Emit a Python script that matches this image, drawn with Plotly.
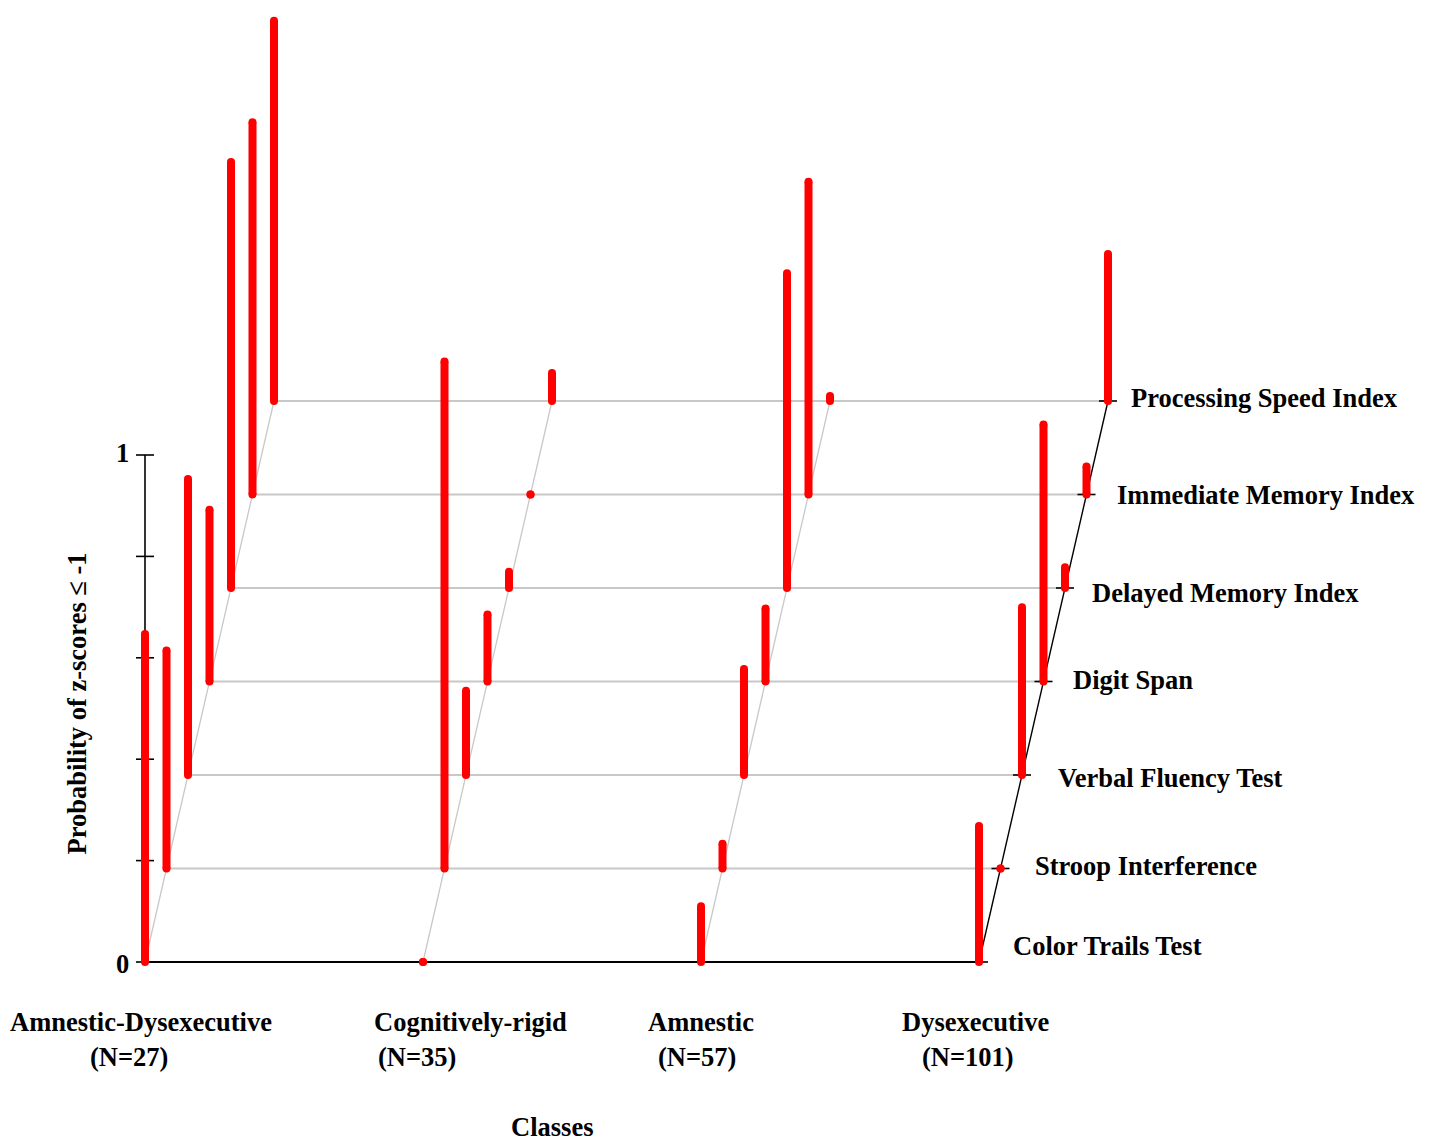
import plotly.graph_objects as go

# ---------------- data ----------------
classes = ["Amnestic-Dysexecutive", "Cognitively-rigid", "Amnestic", "Dysexecutive"]
class_n = ["(N=27)", "(N=35)", "(N=57)", "(N=101)"]
tests = ["Color Trails Test", "Stroop Interference", "Verbal Fluency Test", "Digit Span",
         "Delayed Memory Index", "Immediate Memory Index", "Processing Speed Index"]

# probability of z-scores <= -1, one list per class, in the order of `tests`
amnestic_dysexecutive = [0.647, 0.43, 0.584, 0.339, 0.84, 0.734, 0.75]
cognitively_rigid = [0.0, 1.0, 0.166, 0.132, 0.032, 0.0, 0.055]
amnestic = [0.11, 0.049, 0.209, 0.144, 0.621, 0.617, 0.01]
dysexecutive = [0.268, 0.0, 0.331, 0.507, 0.041, 0.055, 0.29]
values = [amnestic_dysexecutive, cognitively_rigid, amnestic, dysexecutive]

y_ticks = [0, 0.2, 0.4, 0.6, 0.8, 1.0]
y_tick_labels = {0: "0", 1.0: "1"}

# ---------------- pseudo-3D projection ----------------
W, H = 1437, 1144
X0_PX, Y0_PX = 145, 962          # origin in pixels
CLASS_PX, UNIT_PX = 278, 507     # px per class step / per probability unit
DX = 21.5 / CLASS_PX             # depth shift per test (class units)
DY = 93.5 / UNIT_PX              # depth shift per test (probability units)


def proj(ci, tj, p=0.0):
    return ci + tj * DX, p + tj * DY


fig = go.Figure()
GRAY = "#c8c8c8"
RED = "#ff0000"
nC, nT = len(classes), len(tests)

# horizontal depth grid lines (gray) and base line (black)
for tj in range(nT):
    xa, ya = proj(0, tj)
    xb, yb = proj(nC - 1, tj)
    fig.add_trace(go.Scatter(x=[xa, xb], y=[ya, yb], mode="lines",
                             line=dict(color="black" if tj == 0 else GRAY, width=2 if tj == 0 else 1.8),
                             hoverinfo="skip", showlegend=False))

# diagonal depth axes per class
for ci in range(nC):
    xa, ya = proj(ci, 0)
    xb, yb = proj(ci, nT - 1)
    fig.add_trace(go.Scatter(x=[xa, xb], y=[ya, yb], mode="lines",
                             line=dict(color="black" if ci == nC - 1 else GRAY,
                                       width=1.4 if ci == nC - 1 else 1.3),
                             hoverinfo="skip", showlegend=False))

# ticks on the last diagonal
tx, ty = [], []
for tj in range(nT):
    x, y = proj(nC - 1, tj)
    tx += [x - 9 / CLASS_PX, x + 9 / CLASS_PX, None]
    ty += [y, y, None]
fig.add_trace(go.Scatter(x=tx, y=ty, mode="lines", line=dict(color="black", width=1.6),
                         hoverinfo="skip", showlegend=False))

# vertical probability axis
ax, ay = [0, 0], [0, 1]
for t in y_ticks:
    ax += [None, -9 / CLASS_PX, 9 / CLASS_PX]
    ay += [None, t, t]
fig.add_trace(go.Scatter(x=ax, y=ay, mode="lines", line=dict(color="black", width=1.6),
                         hoverinfo="skip", showlegend=False))

# red bars
bx, by, mx, my = [], [], [], []
for ci in range(nC):
    for tj in range(nT):
        p = values[ci][tj]
        x0, y0 = proj(ci, tj, 0)
        x1, y1 = proj(ci, tj, p)
        bx += [x0, x1, None]
        by += [y0, y1, None]
        mx += [x0, x1]
        my += [y0, y1]
fig.add_trace(go.Scatter(x=bx, y=by, mode="lines", line=dict(color=RED, width=8),
                         hoverinfo="skip", showlegend=False))
fig.add_trace(go.Scatter(x=mx, y=my, mode="markers",
                         marker=dict(color=RED, size=8, line=dict(width=0)),
                         hoverinfo="skip", showlegend=False))

FONT = "Liberation Serif, Times New Roman, serif"
FS = 26.5
ann = []
# test labels
label_shift = [32, 32, 34, 27, 25, 28, 21]
label_yshift = [16, 3, -3, 2, -5, 0, 3]
for tj, name in enumerate(tests):
    x, y = proj(nC - 1, tj)
    ann.append(dict(x=x, y=y, text="<b>%s</b>" % name, showarrow=False, xanchor="left",
                    yanchor="middle", xshift=label_shift[tj], yshift=label_yshift[tj],
                    font=dict(family=FONT, size=FS, color="black")))
# class labels
name_shift = [-4, 47, 0, -4]
n_shift = [-16, -6, -4, -11]
for ci in range(nC):
    ann.append(dict(x=ci, y=0, text="<b>%s</b>" % classes[ci], showarrow=False,
                    xanchor="center", yanchor="middle", xshift=name_shift[ci], yshift=-60,
                    font=dict(family=FONT, size=FS, color="black")))
    ann.append(dict(x=ci, y=0, text="<b>%s</b>" % class_n[ci], showarrow=False,
                    xanchor="center", yanchor="middle", xshift=n_shift[ci], yshift=-95,
                    font=dict(family=FONT, size=FS, color="black")))
# y tick labels
for t, lab in y_tick_labels.items():
    ann.append(dict(x=0, y=t, text="<b>%s</b>" % lab, showarrow=False, xanchor="right",
                    yanchor="middle", xshift=-14, yshift=-2 if t == 0 else 2,
                    font=dict(family=FONT, size=FS, color="black")))
# axis titles
ann.append(dict(x=1.5, y=0, text="<b>Classes</b>", showarrow=False, xanchor="center",
                yanchor="middle", xshift=-10, yshift=-165,
                font=dict(family=FONT, size=FS, color="black")))
ann.append(dict(x=0, y=0.5, text="<b>Probability of z-scores ≤ -1</b>", showarrow=False,
                xanchor="center", yanchor="middle", textangle=-90, xshift=-69, yshift=5,
                font=dict(family=FONT, size=FS, color="black")))

fig.update_layout(
    width=W, height=H, autosize=False,
    margin=dict(l=0, r=0, t=0, b=0, pad=0),
    paper_bgcolor="white", plot_bgcolor="white",
    xaxis=dict(range=[-X0_PX / CLASS_PX, (W - X0_PX) / CLASS_PX], visible=False, fixedrange=True),
    yaxis=dict(range=[(Y0_PX - H) / UNIT_PX, Y0_PX / UNIT_PX], visible=False, fixedrange=True),
    annotations=ann,
    showlegend=False,
)

fig.write_html("out.html", post_script="document.body.style.margin='0';",
               config={"displayModeBar": False})
